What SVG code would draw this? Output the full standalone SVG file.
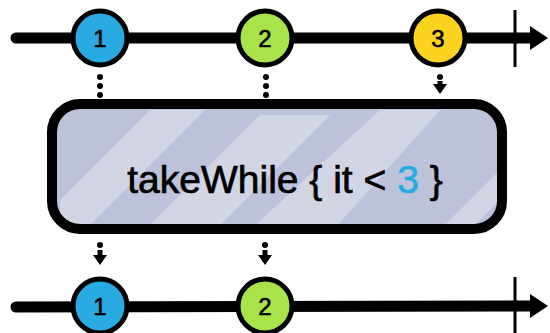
<svg xmlns="http://www.w3.org/2000/svg" width="550" height="333" viewBox="0 0 550 333">
<style>
.line{stroke:#000;stroke-width:11;stroke-linecap:round;fill:none}
.tick{stroke:#000;stroke-width:3;fill:none}
.marble{stroke:#000;stroke-width:5}
.num{font-family:"Liberation Sans",sans-serif;font-size:24px;text-anchor:middle;fill:#000;stroke:#000;stroke-width:0.6}
.dot{fill:#000}
.label{font-family:"Liberation Sans",sans-serif;font-size:39px;fill:#000;text-anchor:middle;stroke:#000;stroke-width:0.7}
</style>
<defs>
<clipPath id="boxclip"><rect x="52" y="104" width="450" height="125" rx="28"/></clipPath>
</defs>
<rect width="550" height="333" fill="#fff"/>
<g id="connectors">
<line class="line" x1="16" y1="38" x2="530" y2="38"/>
<path d="M530,26 L548,38 L530,50 Z" class="dot"/>
<line class="tick" x1="515" y1="10" x2="515" y2="67"/>
<line class="line" x1="16" y1="307" x2="530" y2="306"/>
<path d="M530,294 L548,306 L530,318 Z" class="dot"/>
<line class="tick" x1="515" y1="277" x2="515" y2="333"/>
<circle class="dot" cx="100" cy="77" r="3"/><circle class="dot" cx="100" cy="86" r="3"/><circle class="dot" cx="100" cy="95" r="3"/>
<circle class="dot" cx="266" cy="77" r="3"/><circle class="dot" cx="266" cy="86" r="3"/><circle class="dot" cx="266" cy="95" r="3"/>
<circle class="dot" cx="440" cy="77" r="3"/>
<path d="M433,84 L447,84 L440,94 Z" class="dot"/><rect x="437.5" y="81" width="5" height="5" class="dot"/>
<circle class="dot" cx="100" cy="245" r="3"/>
<path d="M93,255 L107,255 L100,265 Z" class="dot"/><rect x="97.5" y="250" width="5" height="6" class="dot"/>
<circle class="dot" cx="265" cy="245" r="3"/>
<path d="M258,255 L272,255 L265,265 Z" class="dot"/><rect x="262.5" y="250" width="5" height="6" class="dot"/>
</g>
<g id="box">
<rect x="52" y="104" width="450" height="125" rx="28" fill="#bcc2da"/>
<g clip-path="url(#boxclip)" fill="#d2d6e4">
<polygon points="60,200 150,110 205,110 70,245 60,245"/>
<polygon points="130,245 260,115 330,115 200,245"/>
<polygon points="250,230 380,110 440,110 320,245 250,245"/>
<polygon points="440,230 500,170 500,200 470,230"/>
</g>
<rect x="52" y="104" width="450" height="125" rx="28" fill="none" stroke="#000" stroke-width="10"/>
<text class="label" x="285" y="193">takeWhile { it &lt; <tspan fill="#29abe2" stroke="#29abe2">3</tspan> }</text>
</g>
<g id="top1"><circle class="marble" cx="100" cy="38" r="27" fill="#29abe2"/><text class="num" x="100" y="47">1</text></g>
<g id="top2"><circle class="marble" cx="265" cy="38" r="27" fill="#a8e34a"/><text class="num" x="265" y="47">2</text></g>
<g id="top3"><circle class="marble" cx="438" cy="38" r="27" fill="#fcd31e"/><text class="num" x="438" y="47">3</text></g>
<g id="bot1"><circle class="marble" cx="100" cy="306" r="27" fill="#29abe2"/><text class="num" x="100" y="315">1</text></g>
<g id="bot2"><circle class="marble" cx="265" cy="306" r="27" fill="#a8e34a"/><text class="num" x="265" y="315">2</text></g>
</svg>
